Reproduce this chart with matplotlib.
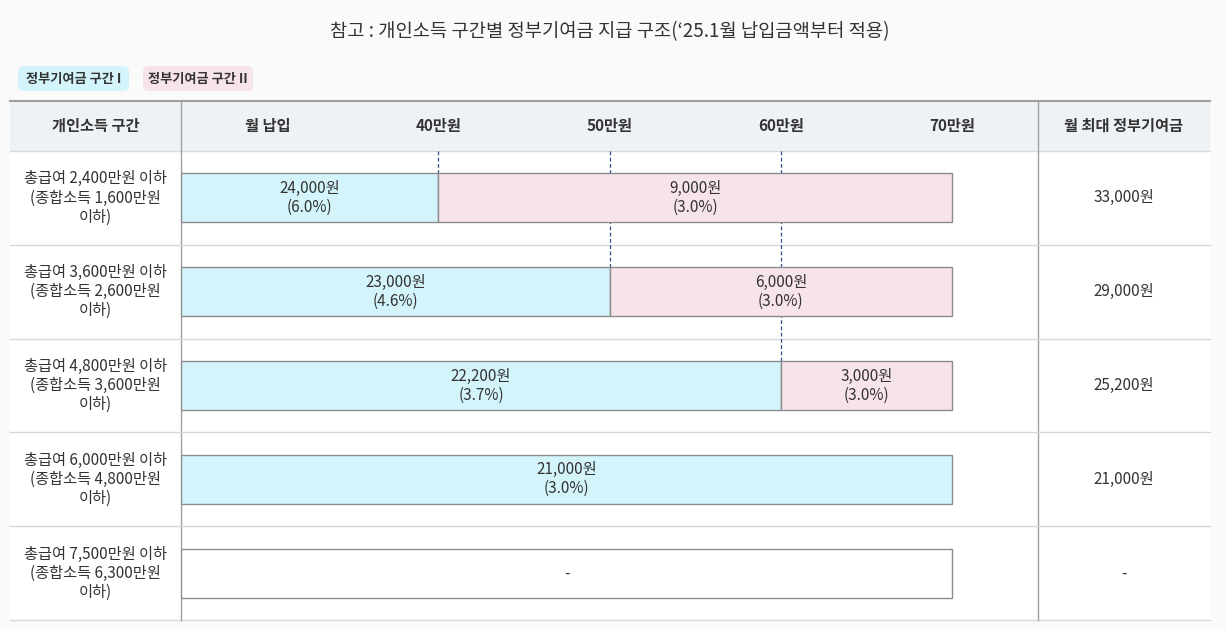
import matplotlib.pyplot as plt
from matplotlib import font_manager
from matplotlib.patches import Rectangle, FancyBboxPatch

# make sure a CJK font is registered
for path in font_manager.findSystemFonts():
    if "CJK" in path or "cjk" in path.lower():
        try:
            font_manager.fontManager.addfont(path)
        except Exception:
            pass
cjk = sorted({f.name for f in font_manager.fontManager.ttflist if "CJK" in f.name})
pref = [n for n in ["Noto Sans CJK KR", "Noto Sans CJK JP", "Noto Sans CJK SC"] if n in cjk] + cjk
plt.rcParams['font.family'] = pref[:1] + ["DejaVu Sans"] if pref else ["DejaVu Sans"]

TITLE = "참고 : 개인소득 구간별 정부기여금 지급 구조(‘25.1월 납입금액부터 적용)"
LEGEND = ["정부기여금 구간 I", "정부기여금 구간 II"]
HEADERS = ["개인소득 구간", "월 최대 정부기여금"]
TICKS = [40, 50, 60, 70]
TICK_LABELS = ["40만원", "50만원", "60만원", "70만원"]
INCOME = [
    "총급여 2,400만원 이하\n(종합소득 1,600만원\n이하)",
    "총급여 3,600만원 이하\n(종합소득 2,600만원\n이하)",
    "총급여 4,800만원 이하\n(종합소득 3,600만원\n이하)",
    "총급여 6,000만원 이하\n(종합소득 4,800만원\n이하)",
    "총급여 7,500만원 이하\n(종합소득 6,300만원\n이하)",
]
# bar boundaries in 만원 (start 25 = left edge of area)
SEG1_END = [40, 50, 60, 70, None]
BAR_END = 70
SEG1_LABEL = ["24,000원\n(6.0%)", "23,000원\n(4.6%)", "22,200원\n(3.7%)", "21,000원\n(3.0%)", "-"]
SEG2_LABEL = ["9,000원\n(3.0%)", "6,000원\n(3.0%)", "3,000원\n(3.0%)", None, None]
MAX_AMT = ["33,000원", "29,000원", "25,200원", "21,000원", "-"]

C1, C2 = "#d4f4fc", "#f7e4eb"
EDGE, GRID, TXT = "#8c8c8c", "#d5d9de", "#333333"
W, H = 1226, 629

fig = plt.figure(figsize=(W / 100, H / 100), dpi=100, facecolor="#fafafa")
ax = fig.add_axes([0, 0, 1, 1])
ax.set_xlim(0, W)
ax.set_ylim(H, 0)
ax.axis("off")

ax.text(610, 32, TITLE, ha="center", va="center", fontsize=13.5, color=TXT)
for (x0, x1), lab, c in zip([(14, 133), (139, 257)], LEGEND, [C1, C2]):
    ax.add_patch(FancyBboxPatch((x0 + 4, 66), x1 - x0 - 8, 25, boxstyle="round,pad=0,rounding_size=6",
                                fc=c, ec="none"))
    ax.text((x0 + x1) / 2, 79, lab, ha="center", va="center", fontsize=9.5, color=TXT, fontweight="bold")

# table frame
top, head_b, bot = 101, 151, 620
left, c1, c2, right = 10, 181, 1038, 1210
ax.add_patch(Rectangle((left, top), right - left, bot - top, fc="white", ec="none"))
ax.add_patch(Rectangle((left, top), right - left, head_b - top, fc="#eef1f6", ec="none"))
ax.plot([left, right], [top, top], color="#a0a0a0", lw=1.5)
ax.plot([left, right], [head_b, head_b], color=GRID, lw=1)
ax.plot([left, right], [bot, bot], color=GRID, lw=1)
for x in (c1, c2):
    ax.plot([x, x], [top, bot], color="#a0a0a0", lw=1)
row_h = (bot - head_b) / len(INCOME)
for i in range(1, len(INCOME)):
    y = head_b + i * row_h
    ax.plot([left, right], [y, y], color=GRID, lw=1)

ax.text((left + c1) / 2, 126, HEADERS[0], ha="center", va="center", fontsize=11, fontweight="bold", color=TXT)
ax.text((c2 + right) / 2, 126, HEADERS[1], ha="center", va="center", fontsize=11, fontweight="bold", color=TXT)
for i, (inc, amt) in enumerate(zip(INCOME, MAX_AMT)):
    yc = head_b + (i + 0.5) * row_h
    ax.text((left + c1) / 2, yc, inc, ha="center", va="center", fontsize=11, color=TXT, linespacing=1.15)
    ax.text((c2 + right) / 2, yc, amt, ha="center", va="center", fontsize=11, color=TXT)

# bar area axes: x in 만원, y in row index
bx = fig.add_axes([c1 / W, 1 - bot / H, (c2 - c1) / W, (bot - head_b) / H])
bx.set_xlim(25, 75)
bx.set_ylim(len(INCOME), 0)
bx.axis("off")
bx.patch.set_alpha(0)
bh = 49 / row_h

ax.text(268, 126, "월 납입", ha="center", va="center", fontsize=11, fontweight="bold", color=TXT)
for t, lab in zip(TICKS, TICK_LABELS):
    px = c1 + (t - 25) / 50 * (c2 - c1)
    ax.text(px, 126, lab, ha="center", va="center", fontsize=11, fontweight="bold", color=TXT)

# dashed guides down to the row where the segment boundary sits
for i, e in enumerate(SEG1_END[:3]):
    bx.plot([e, e], [0, i + 0.5 - bh / 2], ls=(0, (3, 2)), color="#2f4f86", lw=0.9, zorder=1)

for i in range(len(INCOME)):
    yc = i + 0.5
    e1 = SEG1_END[i]
    if e1 is None:
        bx.barh(yc, BAR_END - 25, left=25, height=bh, color="white", edgecolor=EDGE, lw=1, zorder=2)
        bx.text(47.5, yc, SEG1_LABEL[i], ha="center", va="center", fontsize=11, color=TXT, zorder=3)
        continue
    bx.barh(yc, e1 - 25, left=25, height=bh, color=C1, edgecolor=EDGE, lw=1, zorder=2)
    bx.text((25 + e1) / 2, yc, SEG1_LABEL[i], ha="center", va="center", fontsize=11, color=TXT,
            zorder=3, linespacing=1.15)
    if SEG2_LABEL[i]:
        bx.barh(yc, BAR_END - e1, left=e1, height=bh, color=C2, edgecolor=EDGE, lw=1, zorder=2)
        bx.text((e1 + BAR_END) / 2, yc, SEG2_LABEL[i], ha="center", va="center", fontsize=11, color=TXT,
                zorder=3, linespacing=1.15)

fig.savefig("out.png", dpi=100, facecolor=fig.get_facecolor())
